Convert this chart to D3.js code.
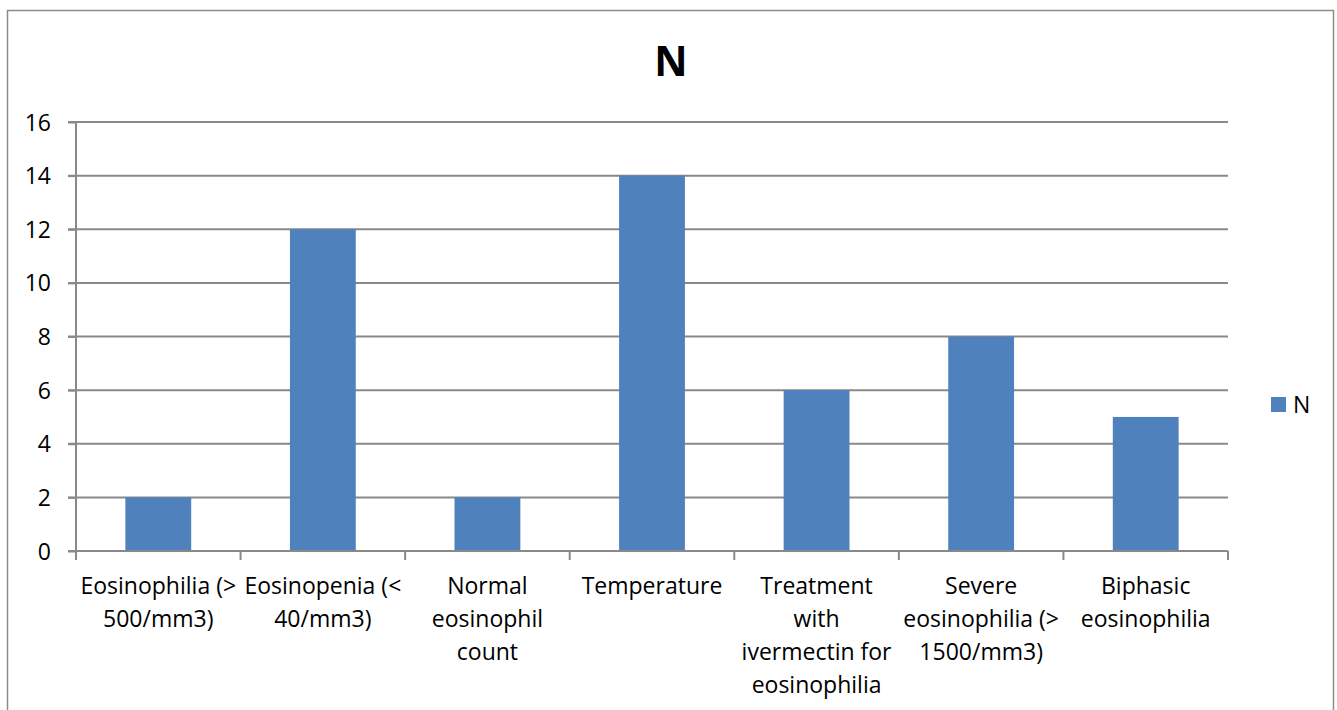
<!DOCTYPE html>
<html>
<head>
<meta charset="utf-8">
<script src="https://cdn.jsdelivr.net/npm/d3@7"></script>
<style>
  body { margin: 0; background: #fff; }
  svg { display: block; font-family: "Open Sans", sans-serif; }
</style>
</head>
<body>
<svg id="chart" width="1337" height="710"></svg>
<script>
// Chart data
const categories = [
  "Eosinophilia (> 500/mm3)",
  "Eosinopenia (< 40/mm3)",
  "Normal eosinophil count",
  "Temperature",
  "Treatment with ivermectin for eosinophilia",
  "Severe eosinophilia (> 1500/mm3)",
  "Biphasic eosinophilia"
];
const values = [2, 12, 2, 14, 6, 8, 5];
const yTicks = [0, 2, 4, 6, 8, 10, 12, 14, 16];
const seriesName = "N";

const svg = d3.select("#chart");
const gridColor = "#898989";
const barColor = "#4F81BD";
const fontSize = 23;

// outer chart border
svg.append("rect")
  .attr("x", 7.5).attr("y", 10.5)
  .attr("width", 1326).attr("height", 720)
  .attr("fill", "none").attr("stroke", "#8c8c8c").attr("stroke-width", 1.5);

// plot area
const plotLeft = 76, plotRight = 1228, plotTop = 122, plotBottom = 551;

const x = d3.scaleBand().domain(categories).range([plotLeft, plotRight]).paddingInner(0.6).paddingOuter(0.3);
const y = d3.scaleLinear().domain([0, 16]).range([plotBottom, plotTop]);

// title
svg.append("text")
  .attr("x", 671).attr("y", 76)
  .attr("text-anchor", "middle")
  .attr("font-size", 41).attr("font-weight", "bold")
  .text(seriesName);

// horizontal gridlines
svg.append("g")
  .selectAll("line")
  .data(yTicks)
  .join("line")
  .attr("x1", plotLeft - 8).attr("x2", plotRight)
  .attr("y1", d => y(d)).attr("y2", d => y(d))
  .attr("stroke", gridColor).attr("stroke-width", 2);

// bars
svg.append("g")
  .selectAll("rect")
  .data(values)
  .join("rect")
  .attr("x", (d, i) => x(categories[i]))
  .attr("width", x.bandwidth())
  .attr("y", d => y(d))
  .attr("height", d => y(0) - y(d))
  .attr("fill", barColor);

// y axis
const yAxis = svg.append("g")
  .attr("transform", `translate(${plotLeft},0)`)
  .call(d3.axisLeft(y).tickValues(yTicks).tickSize(8).tickPadding(17));
yAxis.select(".domain").attr("stroke", gridColor).attr("stroke-width", 2).attr("d", `M0,${plotTop}V${plotBottom}`);
yAxis.selectAll(".tick line").attr("stroke", gridColor).attr("stroke-width", 2);
yAxis.selectAll(".tick text").attr("font-size", fontSize).attr("fill", "#000")
  .attr("font-family", "Open Sans, sans-serif").attr("dy", "0.35em");

// x axis: ticks between categories
const slot = (plotRight - plotLeft) / categories.length;
const xAxis = svg.append("g");
xAxis.append("line")
  .attr("x1", plotLeft).attr("x2", plotRight)
  .attr("y1", plotBottom).attr("y2", plotBottom)
  .attr("stroke", gridColor).attr("stroke-width", 2);
xAxis.selectAll("line.tick")
  .data(d3.range(categories.length + 1))
  .join("line")
  .attr("class", "tick")
  .attr("x1", i => plotLeft + i * slot)
  .attr("x2", i => plotLeft + i * slot)
  .attr("y1", plotBottom).attr("y2", plotBottom + 9)
  .attr("stroke", gridColor).attr("stroke-width", 2);

// wrapped category labels
const labels = svg.append("g")
  .selectAll("text")
  .data(categories)
  .join("text")
  .attr("text-anchor", "middle")
  .attr("font-size", fontSize)
  .attr("fill", "#000");

labels.each(function(d, i) {
  const t = d3.select(this);
  const cx = plotLeft + (i + 0.5) * slot;
  const words = d.split(" ");
  let lines = [], line = [];
  const probe = t.append("tspan");
  words.forEach(w => {
    const test = line.concat(w).join(" ");
    probe.text(test);
    if (probe.node().getComputedTextLength() > slot - 4 && line.length) {
      lines.push(line.join(" "));
      line = [w];
    } else {
      line.push(w);
    }
  });
  lines.push(line.join(" "));
  probe.remove();
  lines.forEach((l, k) => {
    t.append("tspan").attr("x", cx).attr("y", 594 + k * 33).text(l);
  });
});

// legend
const legend = svg.append("g").attr("transform", "translate(1271,397)");
legend.append("rect").attr("width", 15).attr("height", 15).attr("fill", barColor);
legend.append("text").attr("x", 22).attr("y", 15.5).attr("font-size", fontSize).text(seriesName);
</script>
</body>
</html>
